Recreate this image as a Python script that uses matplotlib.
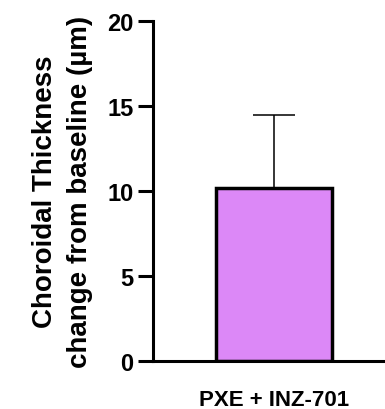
import matplotlib.pyplot as plt

plt.rcParams['font.family'] = ['Liberation Sans', 'DejaVu Sans']
plt.rcParams['font.weight'] = 'bold'

groups = ['PXE + INZ-701']
means = [10.2]
sem_upper = [4.25]

fig = plt.figure(figsize=(3.85, 4.1), dpi=100)
ax = fig.add_axes([0.397, 0.117, 0.603, 0.829])

ax.bar(range(len(groups)), means, width=0.5, color='#DC88F7',
       edgecolor='black', linewidth=2.5, zorder=2)
ax.errorbar(range(len(groups)), means, yerr=[[0] * len(means), sem_upper],
            fmt='none', ecolor='black', elinewidth=1.1, capsize=15,
            capthick=1.1, zorder=1)

ax.set_xlim(-0.52, 0.48)
ax.set_ylim(0, 20)
ax.set_yticks([0, 5, 10, 15, 20])
ax.set_xticks(range(len(groups)))
ax.set_xticklabels(groups, fontsize=16, fontweight='bold')
ax.tick_params(axis='x', length=0, pad=20)
ax.tick_params(axis='y', length=11, width=2.2, labelsize=17, pad=3)
for t in ax.get_yticklabels():
    t.set_fontweight('bold')

ax.spines['top'].set_visible(False)
ax.spines['right'].set_visible(False)
ax.spines['left'].set_linewidth(2.2)
ax.spines['bottom'].set_linewidth(2.2)

ax.set_ylabel('Choroidal Thickness\nchange from baseline (µm)', fontsize=20,
              fontweight='bold', labelpad=10, linespacing=1.45)

fig.savefig('out.png', dpi=100)
